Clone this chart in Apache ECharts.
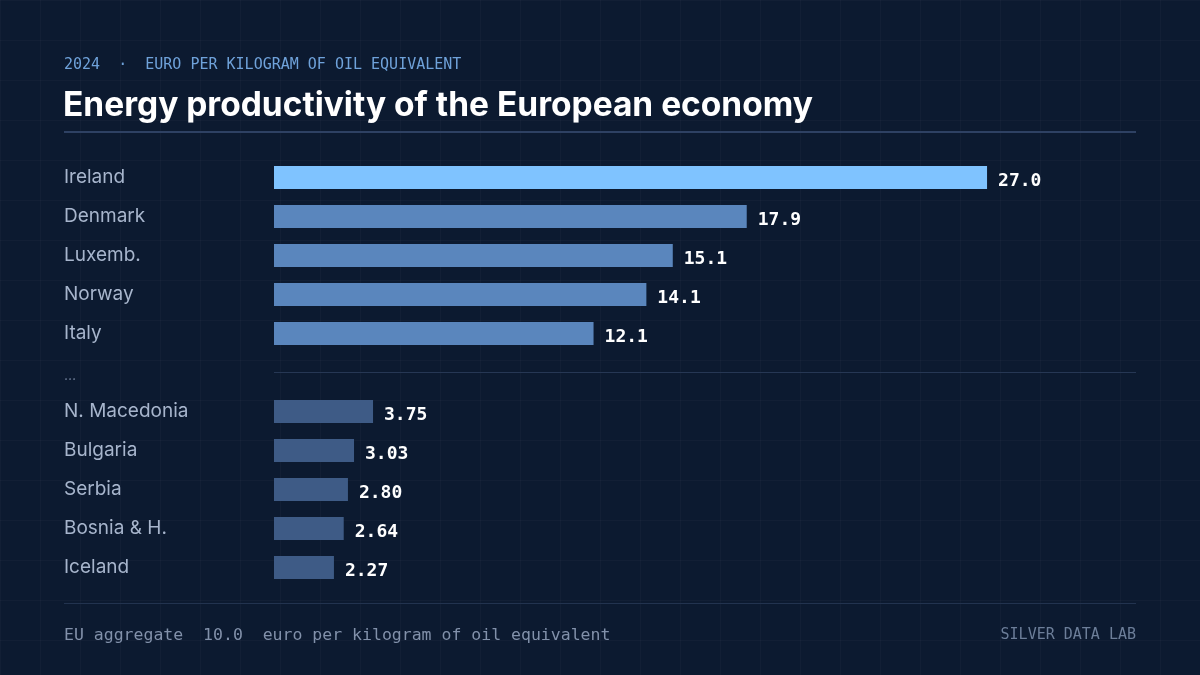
<!DOCTYPE html>
<html>
<head>
<meta charset="utf-8">
<script src="https://cdn.jsdelivr.net/npm/echarts@6/dist/echarts.min.js"></script>
<style>
  html, body {
    margin: 0;
    padding: 0;
    width: 1200px;
    height: 675px;
    background-color: #0c1a30;
    background-image:
      linear-gradient(to right, rgba(255,255,255,0.024) 1px, transparent 1px),
      linear-gradient(to bottom, rgba(255,255,255,0.024) 1px, transparent 1px);
    background-size: 40px 40px;
  }
  #chart { width: 1200px; height: 675px; }
</style>
</head>
<body>
<div id="chart"></div>
<script>
// data
const countries = ['Ireland', 'Denmark', 'Luxemb.', 'Norway', 'Italy', '…',
  'N. Macedonia', 'Bulgaria', 'Serbia', 'Bosnia & H.', 'Iceland']
const values = [27.0, 17.9, 15.1, 14.1, 12.1, null, 3.75, 3.03, 2.80, 2.64, 2.27]
const groups = ['top', 'top', 'top', 'top', 'top', 'gap', 'low', 'low', 'low', 'low', 'low']
const euAggregate = 10.0

const mono = '"DejaVu Sans Mono", "Liberation Mono", monospace'
const sans = 'Inter, "Noto Sans", sans-serif'

const barColor = (v, i) => {
  if (i === 0) return '#7fc3ff' // leader
  return groups[i] === 'top' ? '#5a86bd' : '#3e5b86'
}

const chart = echarts.init(document.getElementById('chart'))
chart.setOption({
  backgroundColor: 'transparent',
  animation: false,
  title: [{
    text: '2024  ·  EURO PER KILOGRAM OF OIL EQUIVALENT',
    left: 64,
    top: 58,
    padding: 0,
    textStyle: { color: '#6fa2da', fontFamily: mono, fontSize: 15, fontWeight: 'normal' }
  }, {
    text: 'Energy productivity of the European economy',
    left: 63,
    top: 89,
    padding: 0,
    textStyle: { color: '#ffffff', fontFamily: sans, fontSize: 33.5, fontWeight: 700 }
  }, {
    text: 'EU aggregate  ' + euAggregate.toFixed(1) + '  euro per kilogram of oil equivalent',
    left: 64,
    top: 627,
    padding: 0,
    textStyle: { color: '#8291aa', fontFamily: mono, fontSize: 16.5, fontWeight: 'normal' }
  }, {
    text: 'SILVER DATA LAB',
    right: 64,
    top: 628,
    padding: 0,
    textStyle: { color: '#6c7e99', fontFamily: mono, fontSize: 15, fontWeight: 'normal' }
  }],
  graphic: [
    { type: 'line', shape: { x1: 64, y1: 132, x2: 1136, y2: 132 }, style: { stroke: '#2e4163', lineWidth: 2 } },
    { type: 'line', shape: { x1: 64, y1: 603.5, x2: 1136, y2: 603.5 }, style: { stroke: '#22334f', lineWidth: 1 } }
  ],
  grid: { left: 274, right: 64, top: 158, height: 429 },
  xAxis: {
    type: 'value',
    min: 0,
    max: 32.64,
    show: false
  },
  yAxis: {
    type: 'category',
    data: countries,
    inverse: true,
    axisLine: { show: false },
    axisTick: { show: false },
    axisLabel: {
      align: 'left',
      margin: 210,
      color: '#a7b5cc',
      fontFamily: sans,
      fontSize: 19,
      padding: [0, 0, 1, 0],
      formatter: (v) => v === '…' ? '{dots|…}' : v,
      rich: { dots: { color: '#6f7f99', fontSize: 14, fontFamily: sans, padding: [8, 0, 0, 0] } }
    }
  },
  series: [{
    type: 'bar',
    data: values.map((v, i) => v == null ? '-' : { value: v, itemStyle: { color: barColor(v, i) } }),
    barWidth: 23,
    label: {
      show: true,
      position: 'right',
      distance: 11,
      offset: [0, 4],
      color: '#ffffff',
      fontFamily: mono,
      fontSize: 18,
      fontWeight: 'bold',
      formatter: (p) => Number(p.value).toPrecision(3)
    },
    markLine: {
      silent: true,
      symbol: 'none',
      label: { show: false },
      lineStyle: { color: '#263754', type: 'solid', width: 1 },
      data: [{ yAxis: '…' }]
    }
  }]
})
</script>
</body>
</html>
